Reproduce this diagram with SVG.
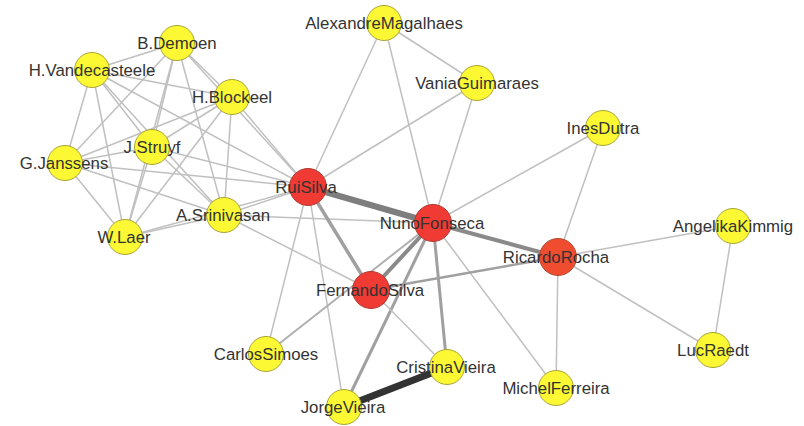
<svg xmlns="http://www.w3.org/2000/svg" width="804" height="426" viewBox="0 0 804 426">
<style>
.e{stroke:#c0c0c0;stroke-width:1.5;fill:none}
.m{stroke:#a0a0a0;stroke-width:3;fill:none}
.t{stroke:#8a8a8a;stroke-width:4;fill:none}
.x{stroke:#7e7e7e;stroke-width:6;fill:none}
.d{stroke:#333333;stroke-width:7;fill:none}
.y{fill:#fcf833;stroke:#a9a43a;stroke-width:1}
.r{fill:#ef3b34;stroke:#b03a33;stroke-width:1}
.o{fill:#f04c30;stroke:#b04a33;stroke-width:1}
text{font-family:"Liberation Sans",Arial,sans-serif;font-size:16.8px;fill:#333333;text-anchor:middle}
</style>
<rect width="804" height="426" fill="#ffffff"/>
<g id="connectors">
<line class="e" x1="92" y1="70" x2="177" y2="43"/>
<line class="e" x1="92" y1="70" x2="232" y2="97"/>
<line class="e" x1="92" y1="70" x2="152" y2="147"/>
<line class="e" x1="92" y1="70" x2="65" y2="163"/>
<line class="e" x1="92" y1="70" x2="125" y2="237"/>
<line class="e" x1="92" y1="70" x2="224" y2="215"/>
<line class="e" x1="92" y1="70" x2="308" y2="187"/>
<line class="e" x1="177" y1="43" x2="232" y2="97"/>
<line class="e" x1="177" y1="43" x2="152" y2="147"/>
<line class="e" x1="177" y1="43" x2="65" y2="163"/>
<line class="e" x1="177" y1="43" x2="125" y2="237"/>
<line class="e" x1="177" y1="43" x2="224" y2="215"/>
<line class="e" x1="177" y1="43" x2="308" y2="187"/>
<line class="e" x1="232" y1="97" x2="152" y2="147"/>
<line class="e" x1="232" y1="97" x2="65" y2="163"/>
<line class="e" x1="232" y1="97" x2="125" y2="237"/>
<line class="e" x1="232" y1="97" x2="224" y2="215"/>
<line class="e" x1="232" y1="97" x2="308" y2="187"/>
<line class="e" x1="152" y1="147" x2="65" y2="163"/>
<line class="e" x1="152" y1="147" x2="125" y2="237"/>
<line class="e" x1="152" y1="147" x2="224" y2="215"/>
<line class="e" x1="152" y1="147" x2="308" y2="187"/>
<line class="e" x1="65" y1="163" x2="125" y2="237"/>
<line class="e" x1="65" y1="163" x2="224" y2="215"/>
<line class="e" x1="65" y1="163" x2="308" y2="187"/>
<line class="e" x1="125" y1="237" x2="224" y2="215"/>
<line class="e" x1="125" y1="237" x2="308" y2="187"/>
<line class="e" x1="224" y1="215" x2="308" y2="187"/>
<line class="e" x1="224" y1="215" x2="433" y2="223"/>
<line class="e" x1="224" y1="215" x2="371" y2="290"/>
<line class="e" x1="308" y1="187" x2="384" y2="23"/>
<line class="e" x1="308" y1="187" x2="477" y2="83"/>
<line class="e" x1="308" y1="187" x2="266" y2="354"/>
<line class="e" x1="308" y1="187" x2="344" y2="407"/>
<line class="m" x1="308" y1="187" x2="371" y2="290" style="stroke-width:3.5"/>
<line class="x" x1="308" y1="187" x2="433" y2="223"/>
<line class="e" x1="384" y1="23" x2="477" y2="83"/>
<line class="e" x1="384" y1="23" x2="433" y2="223"/>
<line class="e" x1="477" y1="83" x2="433" y2="223"/>
<line class="e" x1="433" y1="223" x2="603" y2="128"/>
<line class="t" x1="433" y1="223" x2="558" y2="257"/>
<line class="t" x1="433" y1="223" x2="371" y2="290"/>
<line class="e" x1="433" y1="223" x2="266" y2="354" style="stroke:#b0b0b0;stroke-width:2"/>
<line class="m" x1="433" y1="223" x2="344" y2="407"/>
<line class="m" x1="433" y1="223" x2="447" y2="367"/>
<line class="e" x1="433" y1="223" x2="556" y2="388"/>
<line class="m" x1="371" y1="290" x2="558" y2="257" style="stroke-width:2.5"/>
<line class="e" x1="371" y1="290" x2="447" y2="367"/>
<line class="d" x1="447" y1="367" x2="344" y2="407"/>
<line class="e" x1="558" y1="257" x2="603" y2="128"/>
<line class="e" x1="558" y1="257" x2="733" y2="226"/>
<line class="e" x1="558" y1="257" x2="713" y2="350"/>
<line class="e" x1="558" y1="257" x2="556" y2="388"/>
<line class="e" x1="733" y1="226" x2="713" y2="350"/>
</g>
<g id="AlexandreMagalhaes"><circle class="y" cx="384" cy="23" r="17.5"/><text x="384" y="29">AlexandreMagalhaes</text></g>
<g id="VaniaGuimaraes"><circle class="y" cx="477" cy="83" r="17.5"/><text x="477" y="89">VaniaGuimaraes</text></g>
<g id="InesDutra"><circle class="y" cx="603" cy="128" r="17.5"/><text x="603" y="134">InesDutra</text></g>
<g id="B.Demoen"><circle class="y" cx="177" cy="43" r="17.5"/><text x="177" y="49">B.Demoen</text></g>
<g id="H.Vandecasteele"><circle class="y" cx="92" cy="70" r="17.5"/><text x="92" y="76">H.Vandecasteele</text></g>
<g id="H.Blockeel"><circle class="y" cx="232" cy="97" r="17.5"/><text x="232" y="103">H.Blockeel</text></g>
<g id="J.Struyf"><circle class="y" cx="152" cy="147" r="17.5"/><text x="152" y="153">J.Struyf</text></g>
<g id="G.Janssens"><circle class="y" cx="65" cy="163" r="17.5"/><text x="64" y="169">G.Janssens</text></g>
<g id="A.Srinivasan"><circle class="y" cx="224" cy="215" r="17.5"/><text x="223" y="221">A.Srinivasan</text></g>
<g id="W.Laer"><circle class="y" cx="125" cy="237" r="17.5"/><text x="124" y="243">W.Laer</text></g>
<g id="RuiSilva"><circle class="r" cx="308" cy="187" r="18.5"/><text x="306" y="193">RuiSilva</text></g>
<g id="NunoFonseca"><circle class="r" cx="433" cy="223" r="18.5"/><text x="432" y="229">NunoFonseca</text></g>
<g id="RicardoRocha"><circle class="o" cx="558" cy="257" r="18.5"/><text x="556" y="263">RicardoRocha</text></g>
<g id="FernandoSilva"><circle class="r" cx="371" cy="290" r="18.5"/><text x="370" y="296">FernandoSilva</text></g>
<g id="AngelikaKimmig"><circle class="y" cx="733" cy="226" r="17.5"/><text x="733" y="232">AngelikaKimmig</text></g>
<g id="LucRaedt"><circle class="y" cx="713" cy="350" r="17.5"/><text x="713" y="356">LucRaedt</text></g>
<g id="CarlosSimoes"><circle class="y" cx="266" cy="354" r="17.5"/><text x="266" y="360">CarlosSimoes</text></g>
<g id="CristinaVieira"><circle class="y" cx="447" cy="367" r="17.5"/><text x="446" y="373">CristinaVieira</text></g>
<g id="JorgeVieira"><circle class="y" cx="344" cy="407" r="17.5"/><text x="343" y="413">JorgeVieira</text></g>
<g id="MichelFerreira"><circle class="y" cx="556" cy="388" r="17.5"/><text x="556" y="394">MichelFerreira</text></g>
</svg>
